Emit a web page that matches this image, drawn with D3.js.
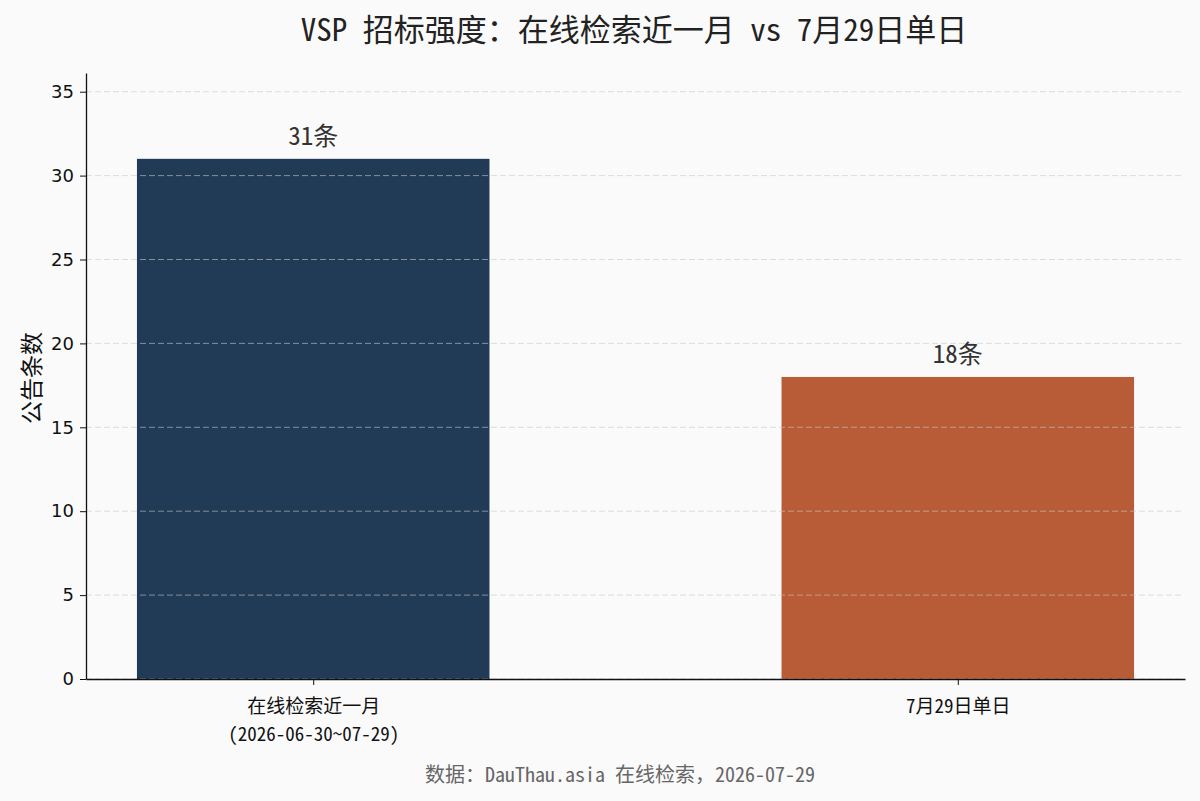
<!DOCTYPE html>
<html lang="zh">
<head>
<meta charset="UTF-8">
<title>VSP 招标强度</title>
<script src="https://cdn.jsdelivr.net/npm/d3@7/dist/d3.min.js"></script>
<style>
    html, body { margin: 0; padding: 0; background: #fafafa; }
    svg { display: block; }
    .mono { font-family: "Noto Sans Mono CJK SC", "Noto Sans CJK SC", monospace; }
    .num { font-family: "DejaVu Sans", sans-serif; }
</style>
</head>
<body>
<svg width="1200" height="801"></svg>
<script>
    // 数据
    var categories = ["在线检索近一月\n(2026-06-30~07-29)", "7月29日单日"];
    var counts = [31, 18];
    var barColors = ["#213a56", "#b85c38"];
    var yTicks = [0, 5, 10, 15, 20, 25, 30, 35];

    var svg = d3.select("svg");
    var margin = { top: 73, right: 15, bottom: 122, left: 86 };
    var width = 1200 - margin.left - margin.right;
    var height = 801 - margin.top - margin.bottom;

    var g = svg.append("g")
        .attr("transform", "translate(" + margin.left + "," + margin.top + ")");

    // 和 matplotlib 一样：柱宽 0.55，左右留 5% 边距
    var barW = 0.55;
    var span = (categories.length - 1) + barW;
    var pad = span * 0.05;
    var x = d3.scaleLinear()
        .domain([-barW / 2 - pad, categories.length - 1 + barW / 2 + pad])
        .range([0, width]);
    var y = d3.scaleLinear()
        .domain([0, d3.max(counts) * 1.165])
        .range([height, 0]);

    // 柱子
    g.selectAll("rect.bar")
        .data(counts)
        .enter().append("rect")
        .attr("class", "bar")
        .attr("x", function (d, i) { return x(i - barW / 2) + 1; })
        .attr("width", function () { return x(barW) - x(0) - 2; })
        .attr("y", function (d) { return y(d); })
        .attr("height", function (d) { return height - y(d); })
        .attr("fill", function (d, i) { return barColors[i]; });

    // 网格线（在柱子上面）
    g.append("g")
        .selectAll("line")
        .data(yTicks)
        .enter().append("line")
        .attr("x1", 0)
        .attr("x2", width - 2)
        .attr("y1", function (d) { return y(d); })
        .attr("y2", function (d) { return y(d); })
        .attr("stroke", "#c8c8c8")
        .attr("stroke-opacity", 0.6)
        .attr("stroke-dasharray", "6,3");

    // 数值标签
    g.selectAll("text.val")
        .data(counts)
        .enter().append("text")
        .attr("class", "val mono")
        .attr("x", function (d, i) { return x(i); })
        .attr("y", function (d) { return y(d) - 14; })
        .attr("text-anchor", "middle")
        .attr("font-size", 25)
        .attr("fill", "#333")
        .text(function (d) { return d + "条"; });

    // y 轴
    var yAxis = g.append("g")
        .call(d3.axisLeft(y).tickValues(yTicks).tickSize(6).tickSizeOuter(0).tickPadding(6));
    yAxis.selectAll("text")
        .attr("class", "num")
        .attr("font-size", 18)
        .attr("fill", "#111");
    yAxis.selectAll("line").attr("stroke", "#111");
    yAxis.select(".domain").attr("stroke", "#111").attr("stroke-width", 1.3);

    // x 轴
    var xAxis = g.append("g")
        .attr("transform", "translate(0," + height + ")")
        .call(d3.axisBottom(x).tickValues(d3.range(categories.length))
            .tickSize(6).tickSizeOuter(0).tickFormat(""));
    xAxis.selectAll("line").attr("stroke", "#111");
    xAxis.select(".domain").attr("stroke", "#111").attr("stroke-width", 1.3);

    // 每行一个 text
    xAxis.selectAll(".tick").each(function (d) {
        var tick = d3.select(this);
        categories[d].split("\n").forEach(function (s, k) {
            tick.append("text")
                .attr("class", "mono")
                .attr("text-anchor", "middle")
                .attr("font-size", 19)
                .attr("fill", "#111")
                .attr("x", 0)
                .attr("y", 34 + k * 28)
                .text(s);
        });
    });

    // y 轴标题
    svg.append("text")
        .attr("class", "mono")
        .attr("transform", "translate(40," + (margin.top + height / 2 + 2) + ") rotate(-90)")
        .attr("text-anchor", "middle")
        .attr("font-size", 23)
        .attr("fill", "#111")
        .text("公告条数");

    // 标题
    svg.append("text")
        .attr("class", "mono")
        .attr("x", 634)
        .attr("y", 41)
        .attr("text-anchor", "middle")
        .attr("font-size", 31)
        .attr("fill", "#222")
        .text("VSP 招标强度：在线检索近一月 vs 7月29日单日");

    // 来源
    svg.append("text")
        .attr("class", "mono")
        .attr("x", 620)
        .attr("y", 782)
        .attr("text-anchor", "middle")
        .attr("font-size", 20)
        .attr("fill", "#666")
        .text("数据：DauThau.asia 在线检索，2026-07-29");
</script>
</body>
</html>
